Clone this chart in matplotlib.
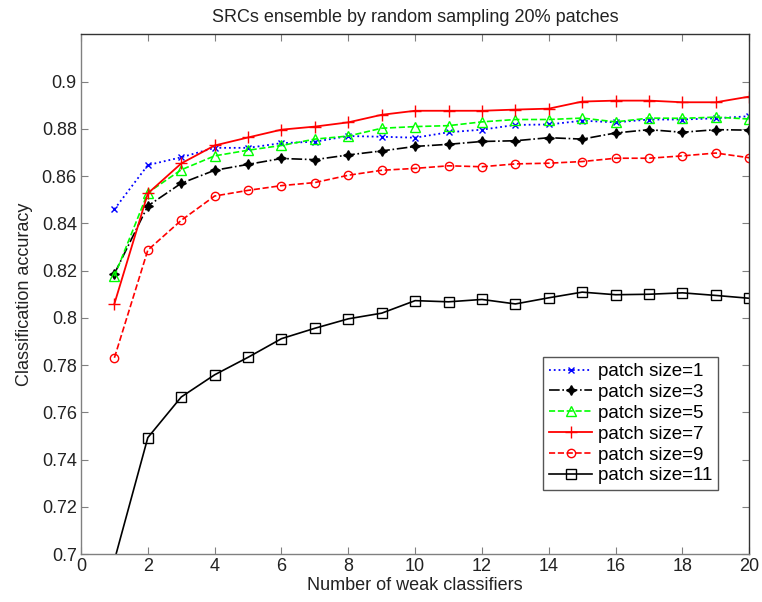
import matplotlib
matplotlib.use("Agg")
import matplotlib.pyplot as plt
from matplotlib.ticker import FormatStrFormatter, MultipleLocator

plt.rcParams['font.family'] = ['Liberation Sans', 'DejaVu Sans']

# number of weak classifiers
n_classifiers = list(range(1, 21))

# classification accuracy per patch size
acc_p1 = [0.846, 0.8647, 0.868, 0.872, 0.872, 0.874, 0.8746, 0.877, 0.8767, 0.8763,
          0.8786, 0.8797, 0.8817, 0.8819, 0.8835, 0.8828, 0.884, 0.884, 0.8845, 0.8854]
acc_p3 = [0.8187, 0.8474, 0.857, 0.8625, 0.865, 0.8675, 0.867, 0.869, 0.8707, 0.8726,
          0.8735, 0.8747, 0.875, 0.8763, 0.8757, 0.8783, 0.8797, 0.8786, 0.8797, 0.8795]
acc_p5 = [0.8176, 0.853, 0.8627, 0.8686, 0.871, 0.873, 0.8757, 0.877, 0.8803, 0.881,
          0.8814, 0.883, 0.884, 0.884, 0.8846, 0.883, 0.8846, 0.8845, 0.885, 0.8842]
acc_p7 = [0.806, 0.8527, 0.8654, 0.873, 0.8764, 0.8797, 0.881, 0.8828, 0.886, 0.8877,
          0.8877, 0.8877, 0.8882, 0.8886, 0.8916, 0.892, 0.892, 0.8913, 0.8913, 0.8937]
acc_p9 = [0.7831, 0.8287, 0.8413, 0.8516, 0.854, 0.856, 0.8573, 0.8604, 0.8625, 0.8633,
          0.8644, 0.864, 0.8652, 0.8655, 0.8662, 0.8676, 0.8676, 0.8686, 0.8698, 0.8678]
acc_p11 = [0.6974, 0.7493, 0.7665, 0.7759, 0.7833, 0.7912, 0.7956, 0.7996, 0.802, 0.8073,
           0.8068, 0.8078, 0.8059, 0.8085, 0.8109, 0.8098, 0.810, 0.8106, 0.8095, 0.8083]

labels = ['patch size=1', 'patch size=3', 'patch size=5',
          'patch size=7', 'patch size=9', 'patch size=11']

fig = plt.figure(figsize=(7.62, 6.02), dpi=100)
ax = fig.add_axes([0.1063, 0.0797, 0.8770, 0.8630])

ax.plot(n_classifiers, acc_p1, color='#0000ff', linestyle=':', marker='x',
        markersize=4, linewidth=1.3, label=labels[0])
ax.plot(n_classifiers, acc_p3, color='black', linestyle='-.', marker=(4, 1, 0),
        markersize=7, linewidth=1.2, label=labels[1])
ax.plot(n_classifiers, acc_p5, color='#00ff00', linestyle='--', marker='^',
        markersize=7, markerfacecolor='none', linewidth=1.2, label=labels[2])
ax.plot(n_classifiers, acc_p7, color='#ff0000', linestyle='-', marker='+',
        markersize=9, linewidth=1.3, label=labels[3])
ax.plot(n_classifiers, acc_p9, color='#ff0000', linestyle='--', marker='o',
        markersize=6, markerfacecolor='none', linewidth=1.2, label=labels[4])
ax.plot(n_classifiers, acc_p11, color='black', linestyle='-', marker='s',
        markersize=7, markerfacecolor='none', linewidth=1.2, label=labels[5])

ax.set_xlim(0, 20)
ax.set_ylim(0.7, 0.92)
ax.xaxis.set_major_locator(MultipleLocator(2))
ax.set_yticks([0.7 + 0.02 * i for i in range(11)])
ax.yaxis.set_major_formatter(FormatStrFormatter('%g'))

ax.tick_params(direction='in', length=5, width=0.8, top=True, right=True,
               labelsize=13, colors='#222222', pad=3)
ax.tick_params(axis='both', color='#808080')
for side in ('left', 'bottom'):
    ax.spines[side].set_color('#808080')
for side in ('top', 'right'):
    ax.spines[side].set_color('#333333')
for sp in ax.spines.values():
    sp.set_linewidth(1.0)

ax.set_title('SRCs ensemble by random sampling 20% patches', fontsize=13,
             color='#222222', pad=9)
ax.set_xlabel('Number of weak classifiers', fontsize=13, color='#222222', labelpad=1)
ax.set_ylabel('Classification accuracy', fontsize=13, color='#222222', labelpad=6)

leg = ax.legend(loc='lower right', bbox_to_anchor=(0.953, 0.123), borderaxespad=0,
                fontsize=13.5, labelspacing=0.2, handlelength=2.3, handletextpad=0.3,
                borderpad=0.3, fancybox=False, framealpha=1)
leg.get_frame().set_edgecolor('#555555')
leg.get_frame().set_linewidth(1.0)

fig.savefig('out.png', dpi=100)
